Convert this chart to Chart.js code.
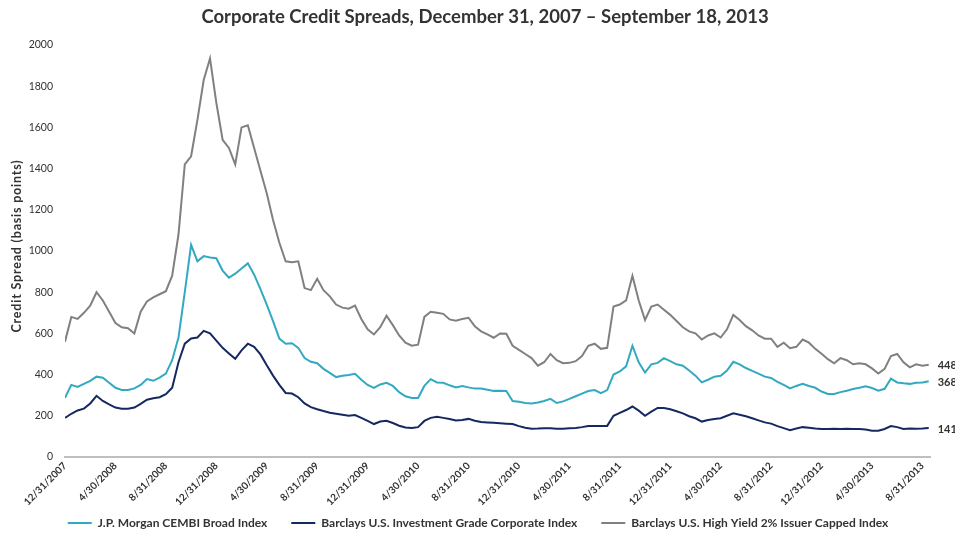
<!DOCTYPE html>
<html>
<head>
<meta charset="utf-8">
<script src="https://cdn.jsdelivr.net/npm/chart.js@4/dist/chart.umd.min.js"></script>
<style>
 html,body{margin:0;padding:0;background:#fff;}
 #wrap{width:955px;height:539px;}
</style>
</head>
<body>
<div id="wrap"><canvas id="spreads"></canvas></div>
<script>
/* DATA - one value every half month from 12/31/2007 */
const stepMonths=0.5;
const tickLabels=["12/31/2007","4/30/2008","8/31/2008","12/31/2008","4/30/2009","8/31/2009","12/31/2009","4/30/2010","8/31/2010","12/31/2010","4/30/2011","8/31/2011","12/31/2011","4/30/2012","8/31/2012","12/31/2012","4/30/2013","8/31/2013"];
const seriesNames=["J.P. Morgan CEMBI Broad Index","Barclays U.S. Investment Grade Corporate Index","Barclays U.S. High Yield 2% Issuer Capped Index"];
const chartTitle="Corporate Credit Spreads, December 31, 2007 \u2013 September 18, 2013";
const yTitle="Credit Spread (basis points)";

const cembi=[287,350,340,355,370,390,385,360,336,325,325,333,350,378,370,385,405,470,580,800,
 1030,950,975,968,965,905,870,890,915,940,885,815,740,660,575,550,552,530,480,462,
 455,428,408,388,394,398,404,375,350,335,352,360,345,315,295,287,287,345,378,362,
 360,348,338,345,338,332,333,326,321,322,320,272,268,262,260,265,272,282,262,270,
 282,295,308,320,325,310,325,400,415,440,540,460,410,450,457,480,465,450,443,420,
 395,362,375,390,394,420,462,450,432,418,405,390,384,365,350,333,345,355,345,336,
 318,306,306,315,322,330,336,343,335,322,331,380,362,358,355,360,362,368];

const invGrade=[190,210,226,235,260,297,272,255,240,234,234,240,258,278,285,290,305,336,460,550,
 575,580,612,600,565,530,503,477,518,550,535,498,445,395,350,311,308,290,260,242,
 232,223,215,210,205,200,204,190,175,160,172,176,165,152,143,141,145,175,190,195,
 190,184,177,180,185,176,170,168,166,164,162,160,150,142,137,138,140,140,137,137,
 139,141,145,151,151,151,151,200,214,228,245,225,200,220,238,238,232,222,212,198,
 188,172,180,185,188,200,212,205,198,188,178,168,162,150,140,130,138,145,142,138,
 136,136,137,136,137,136,136,133,128,128,136,150,145,136,138,137,138,141];

const highYield=[560,680,670,700,735,800,760,705,650,630,625,600,705,755,775,790,805,880,1080,1420,
 1460,1635,1830,1935,1720,1540,1500,1420,1600,1610,1500,1390,1280,1150,1040,950,945,950,820,810,
 865,810,780,740,725,720,735,670,620,595,630,686,640,590,555,540,545,680,705,700,
 695,668,662,670,676,635,610,595,579,600,598,540,520,500,480,443,460,500,470,455,
 457,465,490,540,550,525,530,730,740,760,880,760,665,730,740,715,690,660,630,610,
 600,570,590,600,580,620,690,665,635,615,590,574,574,535,555,528,535,570,555,525,
 501,475,455,480,470,450,455,450,430,405,428,490,500,460,435,450,443,448];

const colors=["#33A9C1","#15285F","#808080"];
const txt="#333333";
const FONT="Lato, 'DejaVu Sans', sans-serif";

function pts(arr){return arr.map((v,i)=>({x:i*stepMonths,y:v}));}

/* title, y axis title and the labels at the end of each line */
const extras={
 id:"extras",
 afterDatasetsDraw(chart){
  const ctx=chart.ctx, a=chart.chartArea;
  ctx.save();
  ctx.fillStyle=txt;
  ctx.textBaseline="middle";
  ctx.textAlign="center";
  ctx.font="bold 18.5px "+FONT;
  ctx.fillText(chartTitle,485,17);
  ctx.textAlign="left";
  ctx.font="bold 11px "+FONT;
  chart.data.datasets.forEach((ds,i)=>{
   const meta=chart.getDatasetMeta(i);
   const p=meta.data[meta.data.length-1];
   ctx.fillText(ds.data[ds.data.length-1].y,p.x+9,p.y+1);
  });
  ctx.translate(17,(a.top+a.bottom)/2-5);
  ctx.rotate(-Math.PI/2);
  ctx.textAlign="center";
  ctx.font="bold 12.5px "+FONT;
  ctx.letterSpacing="0.8px";
  ctx.fillText(yTitle,0,0);
  ctx.restore();
 }
};

new Chart(document.getElementById("spreads"),{
 type:"line",
 data:{datasets:[
  {label:seriesNames[0],data:pts(cembi),borderColor:colors[0],backgroundColor:colors[0],borderWidth:2},
  {label:seriesNames[1],data:pts(invGrade),borderColor:colors[1],backgroundColor:colors[1],borderWidth:2},
  {label:seriesNames[2],data:pts(highYield),borderColor:colors[2],backgroundColor:colors[2],borderWidth:2}
 ]},
 options:{
  responsive:true,maintainAspectRatio:false,animation:false,
  elements:{line:{tension:0},point:{radius:0}},
  layout:{padding:{top:45,right:25,bottom:0,left:26}},
  plugins:{
   title:{display:false},
   legend:{position:"bottom",
    labels:{usePointStyle:true,pointStyle:"line",pointStyleWidth:24,color:txt,padding:12,
     font:{family:FONT,size:12,weight:"bold"},
     generateLabels:chart=>{
      const items=Chart.defaults.plugins.legend.labels.generateLabels(chart);
      items.forEach((it,i)=>{if(i<items.length-1)it.text+="\u2002\u2002";});
      return items;
     }}},
   tooltip:{enabled:false}
  },
  scales:{
   x:{type:"linear",min:0,max:68.6,
    afterBuildTicks:s=>{s.ticks=tickLabels.map((_,i)=>({value:i*4}));},
    afterFit:s=>{s.height=48;},
    grid:{display:false,drawTicks:false},
    border:{display:true,color:"#BFBFBF",width:2},
    ticks:{autoSkip:false,minRotation:45,maxRotation:45,padding:3,color:txt,
     font:{family:FONT,size:10,weight:"bold"},
     callback:(v,i)=>tickLabels[i]}
   },
   y:{min:0,max:2000,
    afterFit:s=>{s.width=39;},
    grid:{display:false,drawTicks:false},
    border:{display:false},
    ticks:{stepSize:200,padding:12,color:txt,font:{family:FONT,size:10.5},
     callback:v=>String(v)}
   }
  }
 },
 plugins:[extras]
});
</script>
</body>
</html>
